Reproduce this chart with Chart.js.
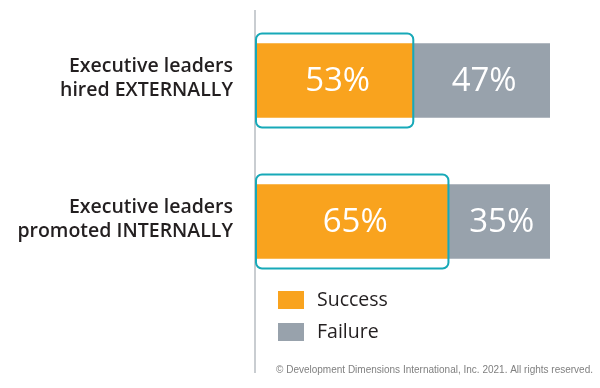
<!DOCTYPE html>
<html lang="en">
<head>
<meta charset="UTF-8"/>
<title>Executive leaders success rate</title>
<script src="https://cdn.jsdelivr.net/npm/chart.js@4/dist/chart.umd.min.js"></script>
<style>
  *{margin:0;padding:0;box-sizing:border-box}
  html,body{width:600px;height:388px;background:#fff;overflow:hidden}
  .wrap{position:relative;width:600px;height:388px}
</style>
</head>
<body>
<div class="wrap"><canvas id="c" width="600" height="388"></canvas></div>
<script>
// data
const categories = [['Executive leaders','hired EXTERNALLY'], ['Executive leaders','promoted INTERNALLY']];
const success = [53, 65];
const failure = [47, 35];
const seriesNames = ['Success', 'Failure'];
const copyright = '\u00A9 Development Dimensions International, Inc. 2021. All rights reserved.';

const ORANGE = '#F9A31E', GRAY = '#98A2AC', TEAL = '#17A9B8', INK = '#231F20';
const FONT = "'Open Sans', 'Noto Sans', sans-serif";

// category labels, white % labels, teal box round success, axis line, legend, footer
const decor = {
  id: 'decor',
  afterDatasetsDraw(chart) {
    const ctx = chart.ctx;
    const area = chart.chartArea;
    const yScale = chart.scales.y;
    ctx.save();

    // vertical axis line, runs past the bars down to the footer
    ctx.fillStyle = '#C9CDD1';
    ctx.fillRect(area.left - 3, 10, 2, 363);

    // category labels, right aligned against the axis
    ctx.fillStyle = INK;
    ctx.font = '600 19.5px ' + FONT;
    ctx.textAlign = 'right';
    ctx.textBaseline = 'middle';
    chart.data.labels.forEach((lines, i) => {
      const yc = yScale.getPixelForValue(i) - 2;
      lines.forEach((t, k) => ctx.fillText(t, 233, yc + (k - (lines.length - 1) / 2) * 24));
    });

    // value labels
    ctx.fillStyle = '#fff';
    ctx.font = '400 33px ' + FONT;
    ctx.textAlign = 'center';
    chart.data.datasets.forEach((ds, di) => {
      chart.getDatasetMeta(di).data.forEach((bar, i) => {
        ctx.fillText(ds.data[i] + '%', (bar.x + bar.base) / 2 + 3, bar.y + 1);
      });
    });

    // highlight box round the success segment
    ctx.strokeStyle = TEAL;
    ctx.lineWidth = 2;
    chart.getDatasetMeta(0).data.forEach(bar => {
      const x0 = bar.base - 1, x1 = bar.x + 1;
      const y0 = bar.y - bar.height / 2 - 10, y1 = bar.y + bar.height / 2 + 10;
      ctx.beginPath();
      ctx.roundRect(x0, y0, x1 - x0, y1 - y0, 6);
      ctx.stroke();
    });

    // legend
    ctx.textAlign = 'left';
    ctx.font = '400 19.5px ' + FONT;
    chart.data.datasets.forEach((ds, di) => {
      const y = 291 + di * 32;
      ctx.fillStyle = ds.backgroundColor;
      ctx.fillRect(278, y, 26, 18);
      ctx.fillStyle = INK;
      ctx.fillText(ds.label, 317, y + 9);
    });

    // footer
    ctx.textAlign = 'right';
    ctx.font = '10px "Liberation Sans", Arial, sans-serif';
    ctx.fillStyle = '#808080';
    ctx.fillText(copyright, 593, 370);
    ctx.restore();
  }
};

new Chart(document.getElementById('c'), {
  type: 'bar',
  data: {
    labels: categories,
    datasets: [
      {label: seriesNames[0], data: success, backgroundColor: ORANGE},
      {label: seriesNames[1], data: failure, backgroundColor: GRAY},
    ]
  },
  options: {
    indexAxis: 'y',
    responsive: false,
    animation: false,
    events: [],
    layout: {padding: {top: 10, right: 50, bottom: 96, left: 0}},
    datasets: {bar: {barThickness: 74, borderWidth: 0}},
    plugins: {legend: {display: false}, tooltip: {enabled: false}},
    scales: {
      x: {stacked: true, min: 0, max: 100, display: false},
      y: {
        stacked: true,
        grid: {display: false, drawTicks: false},
        border: {display: false},
        ticks: {display: false},
        afterFit: s => { s.width = 257; }
      }
    }
  },
  plugins: [decor]
});
</script>
</body>
</html>
